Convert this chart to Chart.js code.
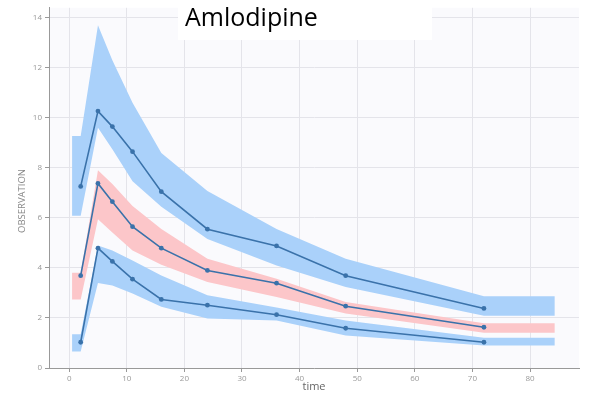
<!DOCTYPE html>
<html>
<head>
<meta charset="utf-8">
<script src="https://cdn.jsdelivr.net/npm/chart.js@4/dist/chart.umd.min.js"></script>
<style>
html,body{margin:0;padding:0;background:#fff;}
#wrap{width:589px;height:398px;}
</style>
</head>
<body>
<div id="wrap"><canvas id="c" width="589" height="398"></canvas></div>
<script>
// ---- data ----
const chartTitle = "Amlodipine";
const xTitle = "time";
const yTitle = "OBSERVATION";
const times = [2, 5, 7.5, 11, 16, 24, 36, 48, 72];
const p95 = [7.26, 10.27, 9.65, 8.65, 7.05, 5.55, 4.88, 3.69, 2.38];
const p50 = [3.69, 7.38, 6.65, 5.65, 4.79, 3.90, 3.39, 2.47, 1.63];
const p05 = [1.03, 4.79, 4.26, 3.55, 2.74, 2.51, 2.13, 1.59, 1.03];
const bandX = [0.5, 2, 5, 7.5, 11, 16, 24, 36, 48, 72, 84.3];
const hiTop = [9.27, 9.27, 13.7, 12.3, 10.6, 8.6, 7.08, 5.56, 4.37, 2.87, 2.87];
const hiBot = [6.09, 6.09, 9.6, 8.75, 7.47, 6.45, 5.16, 4.1, 3.24, 2.09, 2.09];
const midTop = [3.81, 3.81, 7.91, 7.36, 6.48, 5.56, 4.37, 3.57, 2.64, 1.79, 1.79];
const midBot = [2.74, 2.74, 5.95, 5.42, 4.7, 4.13, 3.44, 2.84, 2.18, 1.41, 1.41];
const loTop = [1.35, 1.35, 4.9, 4.7, 4.3, 3.7, 2.91, 2.42, 1.9, 1.21, 1.21];
const loBot = [0.66, 0.66, 3.4, 3.3, 2.98, 2.45, 1.98, 1.9, 1.3, 0.9, 0.9];
const xTicks = [0, 10, 20, 30, 40, 50, 60, 70, 80];
const yTicks = [0, 2, 4, 6, 8, 10, 12, 14];

// ---- build ----
const pts = (xs, ys) => xs.map((x, i) => ({x: x, y: ys[i]}));
const BLUE = '#aad1fa';
const PINK = '#fcc6c9';
const LINE = '#3a72aa';

function band(lo, hi, color) {
  return [
    {data: pts(bandX, lo), borderWidth: 0, pointRadius: 0, fill: false, order: 2, borderColor: 'rgba(0,0,0,0)'},
    {data: pts(bandX, hi), borderWidth: 0, pointRadius: 0, fill: '-1', backgroundColor: color, order: 2, borderColor: 'rgba(0,0,0,0)'}
  ];
}
function line(vals) {
  return {data: pts(times, vals), borderColor: LINE, backgroundColor: LINE, borderWidth: 1.6,
          pointRadius: 2.4, pointBorderWidth: 0, fill: false, order: 0};
}

const datasets = [
  ...band(hiBot, hiTop, BLUE),
  ...band(midBot, midTop, PINK),
  ...band(loBot, loTop, BLUE),
  line(p95), line(p50), line(p05)
];

const bgPlugin = {
  id: 'bg',
  beforeDraw(chart) {
    const {ctx, chartArea: a} = chart;
    ctx.save();
    ctx.fillStyle = '#ffffff';
    ctx.fillRect(0, 0, chart.width, chart.height);
    ctx.fillStyle = '#fafafd';
    ctx.fillRect(a.left, a.top, a.right - a.left, a.bottom - a.top);
    ctx.restore();
  },
  beforeDatasetsDraw(chart) {
    const ctx = chart.ctx;
    ctx.save();
    ctx.fillStyle = '#ffffff';
    ctx.fillRect(178, 0, 254, 40);
    ctx.fillStyle = '#000000';
    ctx.font = '25px "Open Sans"';
    ctx.textBaseline = 'alphabetic';
    ctx.textAlign = 'left';
    ctx.fillText(chartTitle, 185, 26);
    // y axis title
    ctx.translate(22, 201);
    ctx.rotate(-Math.PI / 2);
    ctx.fillStyle = '#888';
    ctx.font = '9.5px "Open Sans"';
    ctx.textAlign = 'center';
    ctx.textBaseline = 'middle';
    ctx.fillText(yTitle, 0, 0);
    ctx.restore();
  }
};

new Chart(document.getElementById('c'), {
  type: 'line',
  data: {datasets},
  plugins: [bgPlugin],
  options: {
    responsive: false,
    animation: false,
    layout: {padding: {top: 5, right: 10, left: 0, bottom: 0}},
    plugins: {legend: {display: false}, tooltip: {enabled: false}, title: {display: false}},
    scales: {
      x: {
        type: 'linear', min: -3.5, max: 88.5,
        afterBuildTicks(s) { s.ticks = xTicks.map(v => ({value: v})); },
        afterFit(s) { s.height = 30; },
        grid: {color: '#e4e4ea', tickLength: 4, tickColor: '#999'},
        border: {color: '#999', width: 1},
        ticks: {color: '#999', font: {size: 8, family: 'Open Sans'}, padding: 2, maxRotation: 0},
        title: {display: true, text: xTitle, color: '#666', font: {size: 11, family: 'Open Sans'}, padding: {top: 0, bottom: 5}}
      },
      y: {
        type: 'linear', min: 0, max: 14.4,
        afterBuildTicks(s) { s.ticks = yTicks.map(v => ({value: v})); },
        afterFit(s) { s.width = 49; },
        grid: {color: '#e4e4ea', tickLength: 4, tickColor: '#999'},
        border: {color: '#999', width: 1},
        ticks: {color: '#999', font: {size: 8, family: 'Open Sans'}, padding: 3},
        title: {display: false}
      }
    }
  }
});
</script>
</body>
</html>
